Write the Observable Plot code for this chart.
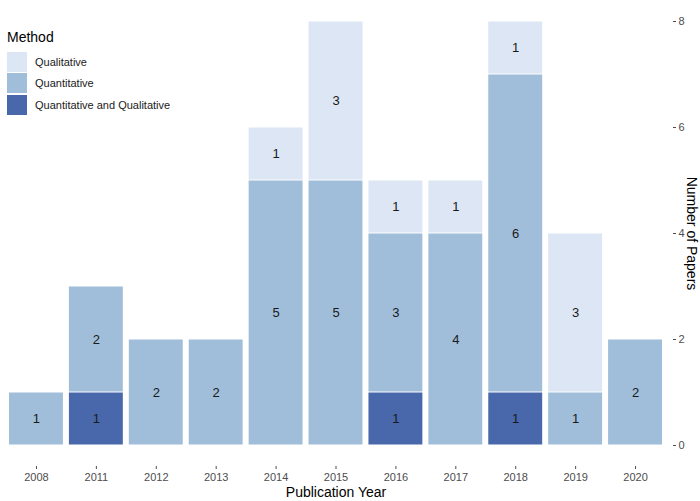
<!DOCTYPE html>
<html>
<head>
<meta charset="utf-8">
<script src="https://cdn.jsdelivr.net/npm/d3@7"></script>
<script src="https://cdn.jsdelivr.net/npm/@observablehq/plot@0.6"></script>
<style>
  body { margin: 0; background: #fff; font-family: "Liberation Sans", Arial, sans-serif; }
  #wrap { position: relative; width: 700px; height: 501px; }
  #legend { position: absolute; left: 7px; top: 29px; font-family: "Liberation Sans", Arial, sans-serif; }
  #legend .title { font-size: 14px; color: #000; margin-bottom: 6px; }
  #legend .row { display: flex; align-items: center; height: 21.5px; }
  #legend .sw { width: 20px; height: 20px; margin-right: 8px; }
  #legend .lab { font-size: 11px; color: #1a1a1a; }
</style>
</head>
<body>
<div id="wrap"></div>
<script>
const years = ["2008","2011","2012","2013","2014","2015","2016","2017","2018","2019","2020"];
const methods = ["Qualitative","Quantitative","Quantitative and Qualitative"];
const colors = ["#dce6f4","#a0bed9","#4868ab"];
const qualitative = [0,0,0,0,1,3,1,1,1,3,0];
const quantitative = [1,2,2,2,5,5,3,4,6,1,2];
const quantQual = [0,1,0,0,0,0,1,0,1,0,0];
const yTicks = [0,2,4,6,8];

const series = [quantQual, quantitative, qualitative];
const seriesNames = ["Quantitative and Qualitative","Quantitative","Qualitative"];
const rows = [];
years.forEach((yr, i) => {
  series.forEach((s, j) => {
    if (s[i] > 0) rows.push({year: yr, method: seriesNames[j], value: s[i]});
  });
});
const order = ["Quantitative and Qualitative","Quantitative","Qualitative"];

const chart = Plot.plot({
  width: 700,
  height: 501,
  marginTop: 21,
  marginBottom: 56,
  marginLeft: 6,
  marginRight: 35,
  style: {fontFamily: "Liberation Sans, Arial, sans-serif", background: "#fff"},
  x: {domain: years, paddingInner: 0.1, paddingOuter: 0.05, round: false, label: null},
  y: {domain: [0, 8], label: null},
  color: {domain: methods, range: colors},
  marks: [
    Plot.barY(rows, Plot.stackY({x: "year", y: "value", z: "method", fill: "method", order, insetTop: 0.5, insetBottom: 0.5})),
    Plot.text(rows, Plot.stackY({x: "year", y: "value", z: "method", order, text: d => String(d.value), fontSize: 13, fill: "#1a1a1a"})),
    Plot.axisX({tickSize: 3, tickPadding: 4, dy: 21, fontSize: 11, color: "#4d4d4d", label: null}),
    Plot.axisY(yTicks, {anchor: "right", tickSize: 3, tickPadding: 3, dx: 7, fontSize: 11, color: "#4d4d4d", tickFormat: d => String(d), label: null}),
    Plot.text(["Number of Papers"], {frameAnchor: "right", text: d => d, rotate: 90, dx: 26, textAnchor: "middle", lineAnchor: "middle", fontSize: 14, fill: "#000"}),
    Plot.text(["Publication Year"], {frameAnchor: "bottom", text: d => d, dy: 47, textAnchor: "middle", lineAnchor: "middle", fontSize: 14, fill: "#000"})
  ]
});
const wrap = document.getElementById("wrap");
wrap.appendChild(chart);

const legend = document.createElement("div");
legend.id = "legend";
legend.innerHTML = `<div class="title">Method</div>` +
  methods.map((m, i) => `<div class="row"><div class="sw" style="background:${colors[i]}"></div><div class="lab">${m}</div></div>`).join("");
wrap.appendChild(legend);
</script>
</body>
</html>
